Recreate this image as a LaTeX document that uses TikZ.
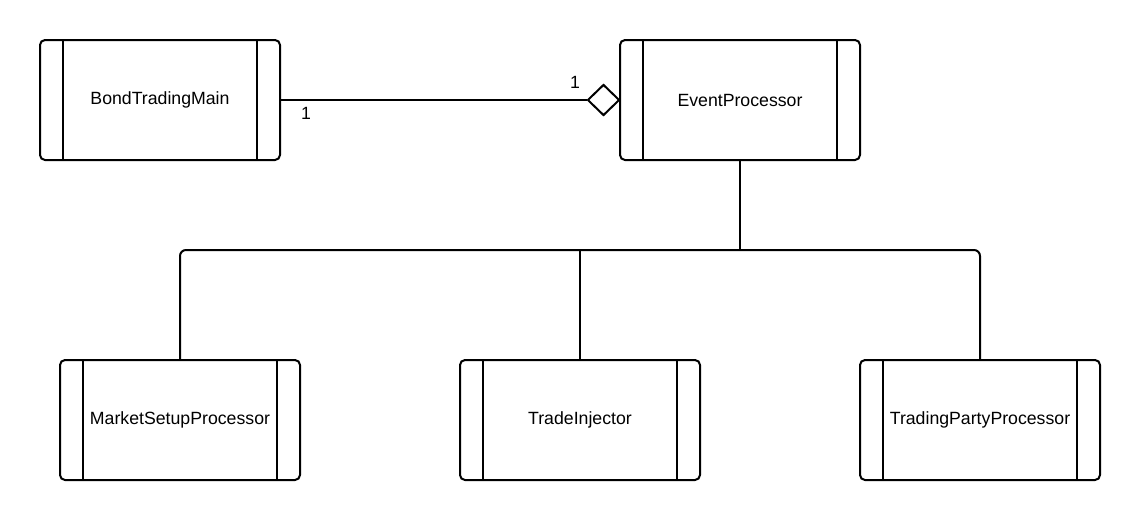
\documentclass[tikz,border=0pt]{standalone}
\usepackage{fontspec}
\setmainfont{Liberation Sans}
\usetikzlibrary{shapes.geometric}
\begin{document}
\begin{tikzpicture}[x=1pt,y=-1pt,
  cls/.style={draw, line width=2pt, rounded corners=5pt, minimum width=240pt, minimum height=120pt, inner sep=0pt, font=\fontsize{17.7pt}{21pt}\selectfont},
  conn/.style={line width=2pt},
  mult/.style={font=\fontsize{17.7pt}{21pt}\selectfont, inner sep=0pt},
  agg/.style={draw, diamond, line width=2pt, minimum width=32pt, minimum height=31pt, inner sep=0pt, fill=white}]
\useasboundingbox (0,0) rectangle (1140,520);
\node[cls] (bt) at (160,100) {BondTradingMain};
\node[cls] (ep) at (740,100) {EventProcessor};
\node[cls] (msp) at (180,420) {MarketSetupProcessor};
\node[cls] (ti) at (580,420) {TradeInjector};
\node[cls] (tpp) at (980,420) {TradingPartyProcessor};
\foreach \n in {bt,ep,msp,ti,tpp}{
  \draw[conn] ([xshift=24pt]\n.north west) -- ([xshift=24pt]\n.south west);
  \draw[conn] ([xshift=-24pt]\n.north east) -- ([xshift=-24pt]\n.south east);
}
\node[agg] (dm) at (603.5,100) {};
\draw[conn] (bt.east) -- (dm.west);
\node[mult] (m1) at (306,113) {1};
\node[mult] (m2) at (575,82) {1};
\coordinate (j) at (740,250);
\draw[conn] (ep.south) -- (j);
\draw[conn, rounded corners=6pt] (msp.north) |- (j) -| (tpp.north);
\draw[conn] (ti.north) -- (ti.north |- j);
\end{tikzpicture}
\end{document}
